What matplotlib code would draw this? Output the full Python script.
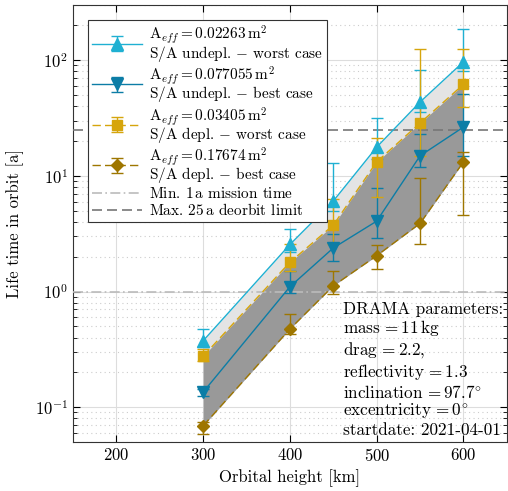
import numpy as np
import matplotlib
matplotlib.use("Agg")
import matplotlib.pyplot as plt
from matplotlib.ticker import LogLocator, NullFormatter

plt.rcParams['font.family'] = 'serif'
plt.rcParams['font.serif'] = ['cmr10']
plt.rcParams['mathtext.fontset'] = 'cm'
plt.rcParams['axes.formatter.use_mathtext'] = True
plt.rcParams['axes.unicode_minus'] = False
plt.rcParams['font.size'] = 11

# orbital heights [km]
height = [300, 400, 450, 500, 550, 600]

# life time [a] and error bar limits (low, high)
undepl_worst = [0.375, 2.55, 6.06, 17.7, 43.5, 96.8]
undepl_worst_lo = [0.33, 2.2, 5.0, 14.0, 36.0, 80.0]
undepl_worst_hi = [0.47, 3.49, 12.8, 31.6, 81.8, 186.0]

undepl_best = [0.135, 1.10, 2.38, 4.06, 14.9, 26.4]
undepl_best_lo = [0.125, 0.97, 1.82, 2.93, 12.0, 14.9]
undepl_best_hi = [0.145, 1.5, 3.15, 7.9, 23.0, 51.0]

depl_worst = [0.276, 1.79, 3.75, 13.2, 28.6, 61.8]
depl_worst_lo = [0.25, 1.51, 2.6, 6.6, 14.9, 39.3]
depl_worst_hi = [0.317, 2.58, 6.3, 21.1, 125.0, 126.0]

depl_best = [0.069, 0.474, 1.12, 2.04, 3.88, 13.2]
depl_best_lo = [0.059, 0.43, 0.95, 1.57, 2.55, 4.55]
depl_best_hi = [0.075, 0.64, 1.49, 2.5, 9.5, 16.0]

labels = [
    "$\\mathrm{A}_{eff}=0.02263\\,\\mathrm{m}^2$\nS/A undepl. $-$ worst case",
    "$\\mathrm{A}_{eff}=0.077055\\,\\mathrm{m}^2$\nS/A undepl. $-$ best case",
    "$\\mathrm{A}_{eff}=0.03405\\,\\mathrm{m}^2$\nS/A depl. $-$ worst case",
    "$\\mathrm{A}_{eff}=0.17674\\,\\mathrm{m}^2$\nS/A depl. $-$ best case",
]

c_lb = '#1FB0D2'
c_db = '#0C7DA6'
c_lg = '#D6A50C'
c_dg = '#9E7600'

fig = plt.figure(figsize=(5.08, 4.91), dpi=100)
ax = fig.add_axes([0.1437, 0.0998, 0.854, 0.8900])

h = np.array(height)
ax.fill_between(h, undepl_worst, depl_worst, color='#E4E4E4', lw=0, zorder=1)
ax.fill_between(h, depl_worst, depl_best, color='#999999', lw=0, zorder=1)


def err(v, lo, hi):
    v = np.array(v)
    return [v - np.array(lo), np.array(hi) - v]


handles = []
handles.append(ax.errorbar(h, undepl_worst, yerr=err(undepl_worst, undepl_worst_lo, undepl_worst_hi),
                           color=c_lb, marker='^', ms=8, lw=1, capsize=4, elinewidth=1, ls='-',
                           label=labels[0], zorder=4))
handles.append(ax.errorbar(h, undepl_best, yerr=err(undepl_best, undepl_best_lo, undepl_best_hi),
                           color=c_db, marker='v', ms=8, lw=1, capsize=4, elinewidth=1, ls='-',
                           label=labels[1], zorder=4))
handles.append(ax.errorbar(h, depl_worst, yerr=err(depl_worst, depl_worst_lo, depl_worst_hi),
                           color=c_lg, marker='s', ms=7, lw=1, capsize=4, elinewidth=1, ls=(0, (6, 3)),
                           label=labels[2], zorder=4))
handles.append(ax.errorbar(h, depl_best, yerr=err(depl_best, depl_best_lo, depl_best_hi),
                           color=c_dg, marker='D', ms=6.5, lw=1, capsize=4, elinewidth=1, ls=(0, (6, 3)),
                           label=labels[3], zorder=4))

handles.append(ax.axhline(1, color='#BBBBBB', lw=1.2, ls=(0, (6, 2, 1, 2)),
                          label='Min. $1\\,$a mission time', zorder=3))
handles.append(ax.axhline(25, color='#777777', lw=1.2, ls=(0, (6, 3)),
                          label='Max. $25\\,$a deorbit limit', zorder=3))

ax.set_yscale('log')
ax.set_xlim(150, 650)
ax.set_ylim(0.05, 300)
ax.set_xticks([200, 300, 400, 500, 600])
ax.yaxis.set_major_locator(LogLocator(base=10, numticks=10))
ax.yaxis.set_minor_locator(LogLocator(base=10, subs=np.arange(2, 10), numticks=20))
ax.yaxis.set_minor_formatter(NullFormatter())

ax.grid(True, which='major', color='#DDDDDD', lw=0.8, zorder=0)
ax.grid(True, which='minor', axis='y', color='#CCCCCC', lw=0.8, ls=(0, (1, 3)), zorder=0)
ax.set_axisbelow(True)
ax.tick_params(which='both', direction='in', top=True, right=True, labelsize=12)
ax.tick_params(which='major', length=5)
ax.tick_params(which='minor', length=3)
for s in ax.spines.values():
    s.set_color('#333333')
    s.set_linewidth(0.8)

ax.set_xlabel('Orbital height [km]', fontsize=12)
ax.set_ylabel('Life time in orbit [a]', fontsize=12, labelpad=8)

leg = ax.legend(handles=handles, loc='upper left', bbox_to_anchor=(0.035, 0.966), fontsize=11,
                handlelength=3.3, labelspacing=0.05, borderpad=0.25, borderaxespad=0,
                handletextpad=0.4, fancybox=False, framealpha=1,
                edgecolor='#333333')
leg.get_frame().set_linewidth(0.8)
for t in leg.get_texts():
    t.set_linespacing(0.8)

ax.text(0.622, 0.322,
        "DRAMA parameters:\nmass$\\,=11\\,$kg\ndrag$\\,=2.2$,\nreflectivity$\\,=1.3$\n"
        "inclination$\\,=97.7^{\\circ}$\nexcentricity$\\,=0^{\\circ}$\nstartdate: 2021-04-01",
        transform=ax.transAxes, ha='left', va='top', fontsize=12.3, linespacing=1.12,
        zorder=5)

fig.savefig('out.png', dpi=100)
